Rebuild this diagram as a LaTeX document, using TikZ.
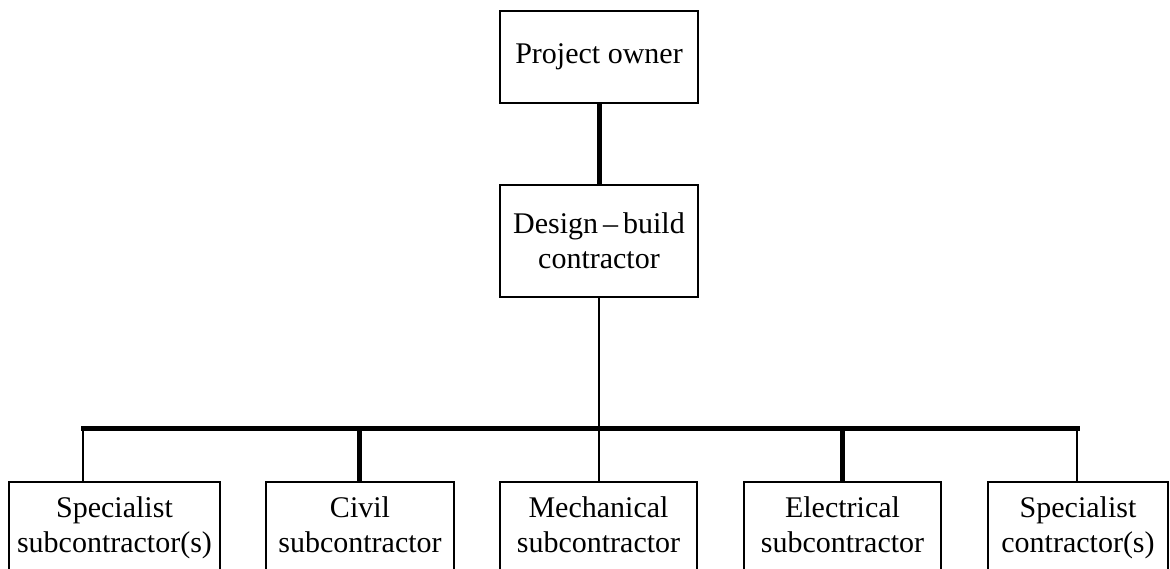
\documentclass[tikz,border=0pt]{standalone}
\usepackage{fontspec}
\setmainfont{Liberation Serif}
\newcommand{\eqline}{\vphantom{()}}
\begin{document}
\begin{tikzpicture}[x=1pt,y=-1pt,
  box/.style={draw, line width=1.8pt, align=center, inner sep=0pt,
    font=\fontsize{30}{35}\selectfont},
  lower/.style={box, anchor=north, minimum height=92pt},
  heavy/.style={line width=5pt},
  light/.style={line width=1.8pt}]
\useasboundingbox (0,0) rectangle (1170,569);
\clip (0,0) rectangle (1170,569);
\node[box, minimum width=198pt, minimum height=92pt] (owner) at (599,57) {Project owner};
\node[box, minimum width=198pt, minimum height=112pt] (db) at (599,241) {Design\,--\,build\\contractor};
\node[lower, minimum width=211pt] (b1) at (114.5,481) {\eqline Specialist\\subcontractor(s)\eqline};
\node[lower, minimum width=188pt] (b2) at (360,481) {\eqline Civil\\subcontractor\eqline};
\node[lower, minimum width=197pt] (b3) at (598.5,481) {\eqline Mechanical\\subcontractor\eqline};
\node[lower, minimum width=197pt] (b4) at (842.5,481) {\eqline Electrical\\subcontractor\eqline};
\node[lower, minimum width=180pt] (b5) at (1078,481) {\eqline Specialist\\contractor(s)\eqline};
\coordinate (j1) at (83,428);
\coordinate (j2) at (359,428);
\coordinate (j3) at (599,428);
\coordinate (j4) at (842,428);
\coordinate (j5) at (1077,428);
\draw[heavy] (owner.south) -- (db.north);
\draw[light] (db.south) -- (j3);
\draw[heavy, line cap=rect] (j1) -- (j5);
\draw[light] (j1) -- (j1 |- b1.north);
\draw[heavy] (j2) -- (j2 |- b2.north);
\draw[light] (j3) -- (j3 |- b3.north);
\draw[heavy] (j4) -- (j4 |- b4.north);
\draw[light] (j5) -- (j5 |- b5.north);
\end{tikzpicture}
\end{document}
